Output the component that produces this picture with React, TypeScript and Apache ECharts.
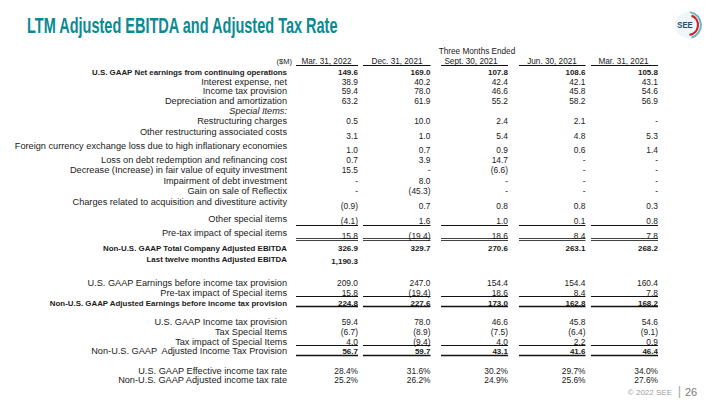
import React, { useEffect, useRef } from "react";
import * as echarts from "echarts";

// ---------- data ----------
const titleText = "LTM Adjusted EBITDA and Adjusted Tax Rate";
const groupHeader = "Three Months Ended";
const unitLabel = "($M)";
const columns = ["Mar. 31, 2022", "Dec. 31, 2021", "Sept. 30, 2021", "Jun. 30, 2021", "Mar. 31, 2021"];

const netEarnings = [149.6, 169.0, 107.8, 108.6, 105.8];
const interestExpense = [38.9, 40.2, 42.4, 42.1, 43.1];
const incomeTaxProvision = [59.4, 78.0, 46.6, 45.8, 54.6];
const depreciation = [63.2, 61.9, 55.2, 58.2, 56.9];
const restructuring = [0.5, 10.0, 2.4, 2.1, null];
const otherRestructuring = [3.1, 1.0, 5.4, 4.8, 5.3];
const fxLoss = [1.0, 0.7, 0.9, 0.6, 1.4];
const debtRedemption = [0.7, 3.9, 14.7, null, null];
const equityFairValue = [15.5, null, -6.6, null, null];
const debtImpairment = [null, 8.0, null, null, null];
const reflectixGain = [null, -45.3, null, null, null];
const acquisitionCharges = [-0.9, 0.7, 0.8, 0.8, 0.3];
const otherSpecial = [-4.1, 1.6, 1.0, 0.1, 0.8];
const pretaxSpecial = [15.8, -19.4, 18.6, 8.4, 7.8];
const adjustedEbitda = [326.9, 329.7, 270.6, 263.1, 268.2];
const ltmAdjustedEbitda = [1190.3];
const earningsBeforeTax = [209.0, 247.0, 154.4, 154.4, 160.4];
const pretaxSpecialItems = [15.8, -19.4, 18.6, 8.4, 7.8];
const adjustedEarningsBeforeTax = [224.8, 227.6, 173.0, 162.8, 168.2];
const gaapTaxProvision = [59.4, 78.0, 46.6, 45.8, 54.6];
const taxSpecialItems = [-6.7, -8.9, -7.5, -6.4, -9.1];
const taxImpactSpecial = [4.0, -9.4, 4.0, 2.2, 0.9];
const adjustedTaxProvision = [56.7, 59.7, 43.1, 41.6, 46.4];
const effectiveTaxRate = [28.4, 31.6, 30.2, 29.7, 34.0];
const adjustedTaxRate = [25.2, 26.2, 24.9, 25.6, 27.6];

const footerText = "© 2022 SEE";
const pageNumber = "26";

// ---------- layout ----------
type Row = {
  label: string;
  values: (number | null)[];
  ly: number;
  ny?: number;
  boldLabel?: boolean;
  boldNums?: boolean;
  italic?: boolean;
  pct?: boolean;
  rule?: "single" | "double" | "thick";
  ruleY?: number;
};

const rows: Row[] = [
  { label: "U.S. GAAP Net earnings from continuing operations", values: netEarnings, ly: 72, boldLabel: true, boldNums: true },
  { label: "Interest expense, net", values: interestExpense, ly: 81.5 },
  { label: "Income tax provision", values: incomeTaxProvision, ly: 91 },
  { label: "Depreciation and amortization", values: depreciation, ly: 101 },
  { label: "Special Items:", values: [], ly: 110.5, italic: true },
  { label: "Restructuring charges", values: restructuring, ly: 121 },
  { label: "Other restructuring associated costs", values: otherRestructuring, ly: 131.5, ny: 136 },
  { label: "Foreign currency exchange loss due to high inflationary economies", values: fxLoss, ly: 146, ny: 150 },
  { label: "Loss on debt redemption and refinancing cost", values: debtRedemption, ly: 159.5 },
  { label: "Decrease (Increase) in fair value of equity investment", values: equityFairValue, ly: 169.5 },
  { label: "Impairment of debt investment", values: debtImpairment, ly: 180.5 },
  { label: "Gain on sale of Reflectix", values: reflectixGain, ly: 190.5 },
  { label: "Charges related to acquisition and divestiture activity", values: acquisitionCharges, ly: 202, ny: 205.5 },
  { label: "Other special items", values: otherSpecial, ly: 218.5, ny: 221, rule: "single", ruleY: 225.5 },
  { label: "Pre-tax impact of special items", values: pretaxSpecial, ly: 233, ny: 235.5, rule: "double", ruleY: 239 },
  { label: "Non-U.S. GAAP Total Company Adjusted EBITDA", values: adjustedEbitda, ly: 248.5, boldLabel: true, boldNums: true },
  { label: "Last twelve months Adjusted EBITDA", values: ltmAdjustedEbitda, ly: 259.5, ny: 261, boldLabel: true, boldNums: true },
  { label: "U.S. GAAP Earnings before income tax provision", values: earningsBeforeTax, ly: 283 },
  { label: "Pre-tax impact of Special items", values: pretaxSpecialItems, ly: 293, rule: "single", ruleY: 296.5 },
  { label: "Non-U.S. GAAP Adjusted Earnings before income tax provision", values: adjustedEarningsBeforeTax, ly: 303, boldLabel: true, boldNums: true, rule: "thick", ruleY: 306.5 },
  { label: "U.S. GAAP Income tax provision", values: gaapTaxProvision, ly: 322 },
  { label: "Tax Special Items", values: taxSpecialItems, ly: 332 },
  { label: "Tax impact of Special Items", values: taxImpactSpecial, ly: 341.5, rule: "single", ruleY: 345.5 },
  { label: "Non-U.S. GAAP  Adjusted Income Tax Provision", values: adjustedTaxProvision, ly: 351.3, boldNums: true, rule: "thick", ruleY: 355.5 },
  { label: "U.S. GAAP Effective income tax rate", values: effectiveTaxRate, ly: 370.7, pct: true },
  { label: "Non-U.S. GAAP Adjusted income tax rate", values: adjustedTaxRate, ly: 380, pct: true },
];

const labelRight = 287;
const colLeft = [296, 363, 441, 519, 591];
const colRight = [358, 430.5, 508, 585.5, 658];
const headerCenter = [326.5, 397, 471, 552, 623.5];
const FONT = "Liberation Sans, Arial, Helvetica, sans-serif";
const INK = "#1a1a1a";
const TEAL = "#0a8a93";

function fmt(v: number | null, pct?: boolean): string {
  if (v === null || v === undefined) return "-";
  const s = Math.abs(v).toLocaleString("en-US", { minimumFractionDigits: 1, maximumFractionDigits: 1 });
  const body = pct ? s + "%" : s;
  return v < 0 ? `(${body})` : body;
}

function txt(x: number, y: number, text: string, o: any = {}) {
  const align = o.align || "left";
  return {
    type: "text",
    x,
    y,
    scaleX: o.scaleX || 1,
    silent: true,
    style: {
      text,
      fill: o.fill || INK,
      fontSize: o.fontSize || 8.5,
      fontWeight: o.fontWeight || "normal",
      fontStyle: o.fontStyle || "normal",
      fontFamily: FONT,
      align,
      textAlign: align,
      verticalAlign: "middle",
      textVerticalAlign: "middle",
    },
  };
}

function hline(x1: number, x2: number, y: number, w = 1, stroke = "#111") {
  return { type: "line", silent: true, shape: { x1, y1: y, x2, y2: y }, style: { stroke, lineWidth: w } };
}

function buildGraphics() {
  const els: any[] = [];
  // title
  els.push(txt(27, 25, titleText, { fontSize: 22.5, fontWeight: "bold", fill: TEAL, scaleX: 0.645 }));

  // logo
  els.push({ type: "circle", silent: true, shape: { cx: 688, cy: 25, r: 13 }, style: { fill: "#eef6f8" } });
  els.push({ type: "arc", silent: true, shape: { cx: 688, cy: 25, r: 13, startAngle: -Math.PI / 2.2, endAngle: Math.PI / 2.4 }, style: { stroke: "#6fb6c2", lineWidth: 2, fill: "none" } });
  els.push({ type: "arc", silent: true, shape: { cx: 688, cy: 25, r: 10, startAngle: -Math.PI / 2.6, endAngle: Math.PI / 2.2 }, style: { stroke: "#c9262e", lineWidth: 2.2, fill: "none" } });
  els.push(txt(685, 25, "SEE", { fontSize: 8.5, fontWeight: "bold", fill: "#1f4f7a", align: "center", scaleX: 0.9 }));

  // headers
  els.push(txt(477, 51, groupHeader, { fontSize: 8.2, align: "center" }));
  els.push(txt(292, 61, unitLabel, { fontSize: 7.5, align: "right" }));
  columns.forEach((c, i) => {
    els.push(txt(headerCenter[i], 61, c, { fontSize: 8.2, align: "center" }));
    els.push(hline(colLeft[i], colRight[i], 65.5, 1));
  });

  // rows
  rows.forEach((r) => {
    els.push(
      txt(labelRight, r.ly, r.label, {
        fontSize: r.boldLabel ? 7.9 : 9.2,
        fontWeight: r.boldLabel ? "bold" : "normal",
        fontStyle: r.italic ? "italic" : "normal",
        align: "right",
      })
    );
    const ny = r.ny ?? r.ly;
    r.values.forEach((v, i) => {
      els.push(
        txt(colRight[i], ny, fmt(v, r.pct), {
          fontSize: r.boldNums ? 8 : 8.4,
          fontWeight: r.boldNums ? "bold" : "normal",
          align: "right",
        })
      );
    });
    if (r.rule && r.ruleY !== undefined) {
      colLeft.forEach((x1, i) => {
        if (r.rule === "double") {
          els.push(hline(x1, colRight[i], r.ruleY! - 0.5, 0.8));
          els.push(hline(x1, colRight[i], r.ruleY! + 1.5, 0.8));
        } else if (r.rule === "thick") {
          els.push(hline(x1, colRight[i], r.ruleY!, 1.6));
        } else {
          els.push(hline(x1, colRight[i], r.ruleY!, 1));
        }
      });
    }
  });

  // footer
  els.push(txt(672, 392, footerText, { fontSize: 8, fill: "#a0a0a0", align: "right" }));
  els.push({ type: "line", silent: true, shape: { x1: 679.5, y1: 386, x2: 679.5, y2: 398 }, style: { stroke: "#b8b8b8", lineWidth: 1.5 } });
  els.push(txt(685, 392, pageNumber, { fontSize: 11, fill: "#7a7a7a" }));
  return els;
}

export default function App() {
  const ref = useRef<HTMLDivElement>(null);
  useEffect(() => {
    document.body.style.margin = "0";
    const chart = echarts.init(ref.current!, undefined, { renderer: "svg" });
    chart.setOption({
      animation: false,
      backgroundColor: "#ffffff",
      graphic: { elements: buildGraphics() },
    });
    return () => chart.dispose();
  }, []);
  return <div ref={ref} style={{ position: "fixed", left: 0, top: 0, width: 720, height: 405, background: "#fff" }} />;
}
